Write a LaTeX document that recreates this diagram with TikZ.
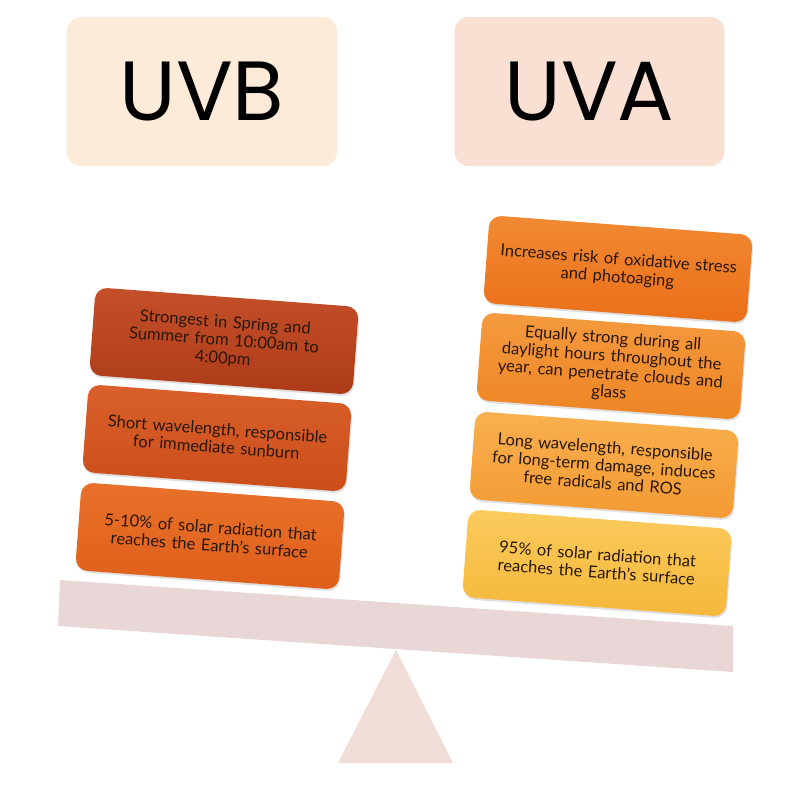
\documentclass[tikz,border=0pt]{standalone}
\usepackage{fontspec}
\setmainfont{Lato}
\newfontfamily\titlefont{Poppins}
\usetikzlibrary{shadows}
\definecolor{uvbbg}{HTML}{FDEBD9}
\definecolor{uvabg}{HTML}{F9E0D3}
\definecolor{beamc}{HTML}{E9D7D7}
\definecolor{tric}{HTML}{F1DDD7}
\definecolor{txt}{HTML}{2A170C}
\definecolor{laT}{HTML}{C4502A}\definecolor{laB}{HTML}{AE3B18}
\definecolor{lbT}{HTML}{D9602B}\definecolor{lbB}{HTML}{CB4E19}
\definecolor{lcT}{HTML}{E8712B}\definecolor{lcB}{HTML}{DF5F19}
\definecolor{raT}{HTML}{F18A33}\definecolor{raB}{HTML}{EA6F18}
\definecolor{rbT}{HTML}{F49A3E}\definecolor{rbB}{HTML}{EE8424}
\definecolor{rcT}{HTML}{F8B04E}\definecolor{rcB}{HTML}{F39A33}
\definecolor{rdT}{HTML}{FACB5C}\definecolor{rdB}{HTML}{F5B73A}
\tikzset{
  titlebox/.style={rectangle, rounded corners=14pt, minimum width=270pt, minimum height=149pt,
    inner sep=0pt, font=\titlefont\fontsize{84}{84}\selectfont, text=black},
  infobox/.style={rectangle, rounded corners=12pt, minimum width=264pt, minimum height=88pt,
    inner sep=0pt, text width=262pt, align=center, rotate=-4.3,
    font=\fontsize{16.5}{18}\selectfont, text=txt,
    drop shadow={shadow xshift=1pt, shadow yshift=-2pt, opacity=0.25}}
}
\begin{document}
\begin{tikzpicture}[x=1pt,y=-1pt]
\useasboundingbox (0,0) rectangle (810,784);
\fill[white] (0,0) rectangle (810,784);
% fulcrum and beam
\fill[tric] (396,650) -- (453,763) -- (338,763) -- cycle;
\fill[beamc] (60,580) -- (733,626) -- (733,672) -- (58,626) -- cycle;
% titles
\node[titlebox, fill=uvbbg] (uvb) at (202,91.5) {UVB};
\node[titlebox, fill=uvabg] (uva) at (589.5,91.5) {UVA};
% UVB column
\node[infobox, top color=laT, bottom color=laB] (b1) at (224,341) {Strongest in Spring and\\Summer from 10:00am to\\4:00pm};
\node[infobox, top color=lbT, bottom color=lbB] (b2) at (217,438) {Short wavelength, responsible\\for immediate sunburn};
\node[infobox, top color=lcT, bottom color=lcB] (b3) at (210,536) {5-10\% of solar radiation that\\reaches the Earth’s surface};
% UVA column
\node[infobox, top color=raT, bottom color=raB] (a1) at (618,269) {Increases risk of oxidative stress\\and photoaging};
\node[infobox, top color=rbT, bottom color=rbB] (a2) at (611,366) {Equally strong during all\\daylight hours throughout the\\year, can penetrate clouds and\\glass};
\node[infobox, top color=rcT, bottom color=rcB] (a3) at (604,465) {Long wavelength, responsible\\for long-term damage, induces\\free radicals and ROS};
\node[infobox, top color=rdT, bottom color=rdB] (a4) at (597,563) {95\% of solar radiation that\\reaches the Earth’s surface};
\end{tikzpicture}
\end{document}
